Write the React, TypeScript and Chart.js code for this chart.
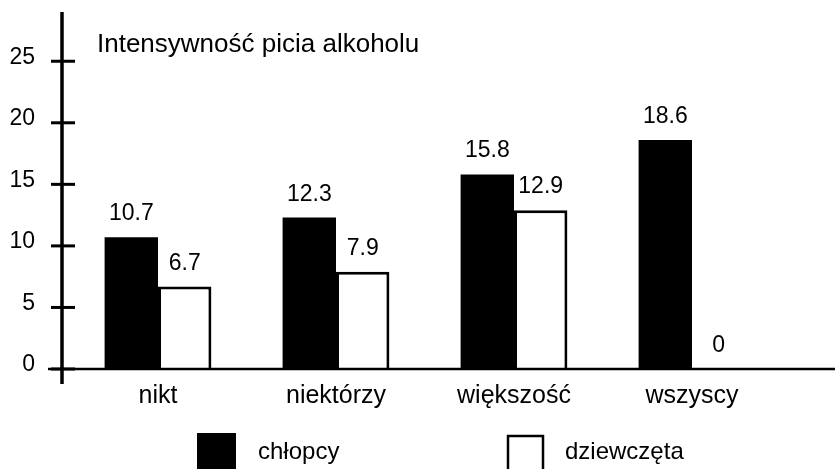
import React, { useEffect, useRef } from "react";
import { Chart, registerables } from "chart.js";

Chart.register(...registerables);

const categories = ["nikt", "niektórzy", "większość", "wszyscy"];
const boysValues = [10.7, 12.3, 15.8, 18.6];
const girlsValues = [6.7, 7.9, 12.9, 0];
const seriesLabels = ["chłopcy", "dziewczęta"];
const yTicks = [0, 5, 10, 15, 20, 25];
const yMax = 29;
const title = "Intensywność picia alkoholu";

const FONT = "'Liberation Sans', Arial, Helvetica, sans-serif";

const customPlugin = {
  id: "customDraw",
  afterDraw(chart: any) {
    const { ctx, chartArea, scales } = chart;
    const xs = scales.x;
    const ys = scales.y;
    const axisX = chartArea.left - 7;
    const y0 = ys.getPixelForValue(0);
    ctx.save();
    ctx.strokeStyle = "#000";
    ctx.fillStyle = "#000";

    // y axis line
    ctx.lineWidth = 3.5;
    ctx.beginPath();
    ctx.moveTo(axisX, chartArea.top);
    ctx.lineTo(axisX, y0 + 15);
    ctx.stroke();

    // x axis line
    ctx.lineWidth = 2.5;
    ctx.beginPath();
    ctx.moveTo(axisX - 14, y0);
    ctx.lineTo(chart.width, y0);
    ctx.stroke();

    // y ticks + labels
    ctx.font = `23px ${FONT}`;
    ctx.textAlign = "right";
    ctx.textBaseline = "middle";
    yTicks.forEach((t) => {
      const py = ys.getPixelForValue(t);
      ctx.lineWidth = 3;
      ctx.beginPath();
      ctx.moveTo(axisX - 11, py);
      ctx.lineTo(axisX + 13, py);
      ctx.stroke();
      ctx.fillText(String(t), axisX - 27, py - 4);
    });

    // category labels
    ctx.font = `25px ${FONT}`;
    ctx.textAlign = "center";
    ctx.textBaseline = "alphabetic";
    categories.forEach((c, i) => {
      ctx.fillText(c, xs.getPixelForValue(i), y0 + 34);
    });

    // title
    ctx.font = `26px ${FONT}`;
    ctx.textAlign = "left";
    ctx.fillText(title, axisX + 35, chartArea.top + 40);

    // value labels
    ctx.font = `23px ${FONT}`;
    ctx.textAlign = "center";
    chart.data.datasets.forEach((ds: any, di: number) => {
      const meta = chart.getDatasetMeta(di);
      meta.data.forEach((el: any, i: number) => {
        const v = ds.data[i];
        ctx.fillText(String(v), el.x, el.y - 17);
      });
    });

    // legend
    const ds0 = chart.data.datasets[0];
    const ds1 = chart.data.datasets[1];
    ctx.fillStyle = ds0.backgroundColor;
    ctx.fillRect(197, 433, 39, 40);
    ctx.fillStyle = ds1.backgroundColor;
    ctx.fillRect(508, 436, 35, 40);
    ctx.strokeStyle = ds1.borderColor;
    ctx.lineWidth = 2.5;
    ctx.strokeRect(508, 436, 35, 40);
    ctx.fillStyle = "#000";
    ctx.font = `24px ${FONT}`;
    ctx.textAlign = "left";
    ctx.textBaseline = "alphabetic";
    ctx.fillText(ds0.label, 258, 459);
    ctx.fillText(ds1.label, 565, 459);

    ctx.restore();
  },
};

export default function App() {
  const ref = useRef<HTMLCanvasElement | null>(null);

  useEffect(() => {
    if (!ref.current) return;
    const chart = new Chart(ref.current, {
      type: "bar",
      data: {
        labels: categories,
        datasets: [
          {
            label: seriesLabels[0],
            data: boysValues,
            backgroundColor: "#000000",
            borderWidth: 0,
            categoryPercentage: 0.6,
            barPercentage: 1.0,
          },
          {
            label: seriesLabels[1],
            data: girlsValues,
            backgroundColor: "#ffffff",
            borderColor: "#000000",
            borderWidth: 3,
            categoryPercentage: 0.6,
            barPercentage: 1.0,
          },
        ],
      },
      options: {
        responsive: false,
        animation: false,
        layout: { padding: { left: 69, right: 54, top: 12, bottom: 100 } },
        scales: {
          x: { display: false },
          y: { display: false, min: 0, max: yMax },
        },
        plugins: {
          legend: { display: false },
          tooltip: { enabled: false },
          title: { display: false },
        },
      },
      plugins: [customPlugin],
    });
    return () => chart.destroy();
  }, []);

  return (
    <div
      style={{
        position: "absolute",
        left: 0,
        top: 0,
        width: 835,
        height: 469,
        background: "#fff",
      }}
    >
      <canvas ref={ref} width={835} height={469} style={{ display: "block" }} />
    </div>
  );
}
